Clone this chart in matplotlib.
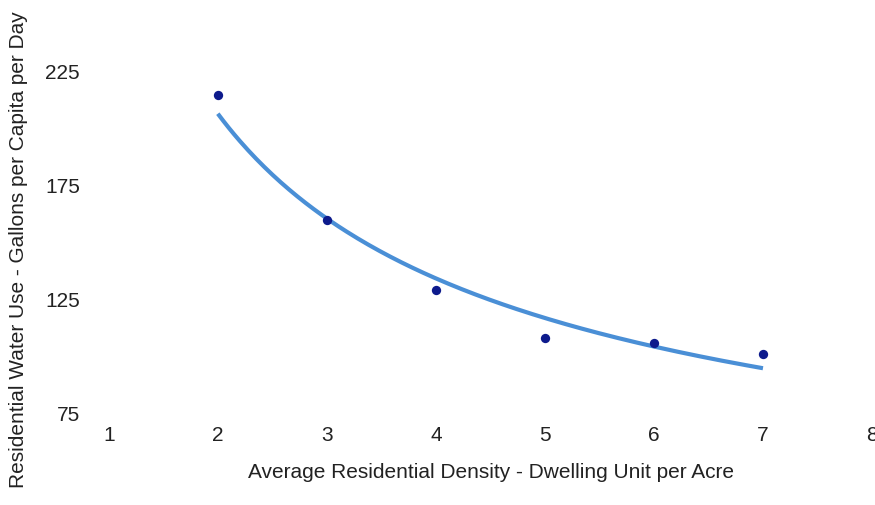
import numpy as np
import matplotlib
matplotlib.use("Agg")
import matplotlib.pyplot as plt

# Data
density = [2, 3, 4, 5, 6, 7]
water_use = [214.5, 159.5, 129.0, 108.0, 105.8, 101.0]
x_ticks = [1, 2, 3, 4, 5, 6, 7, 8]
y_ticks = [75, 125, 175, 225]

plt.rcParams['font.family'] = ['Liberation Sans', 'DejaVu Sans']

fig = plt.figure(figsize=(8.75, 5.06), dpi=100)
fig.patch.set_facecolor('white')
ax = fig.add_axes([87/875, 1 - 420.8/506, 785/875, 405.8/506])
ax.set_facecolor('white')

# Power-law trendline fitted to the points
xd = np.array(density, dtype=float)
yd = np.array(water_use, dtype=float)
b, ln_a = np.polyfit(np.log(xd), np.log(yd), 1)
xs = np.linspace(xd.min(), xd.max(), 200)
ax.plot(xs, np.exp(ln_a) * xs ** b, color='#4a8fd6', lw=3, solid_capstyle='butt', zorder=2)

ax.scatter(density, water_use, s=45, color='#0d1a8c', zorder=3, linewidths=0)

ax.set_xlim(0.8, 8.0)
ax.set_ylim(72, 250)
ax.set_xticks(x_ticks)
ax.set_yticks(y_ticks)
ax.tick_params(axis='both', length=0, labelsize=15, colors='#222222')
ax.tick_params(axis='y', pad=5)
ax.tick_params(axis='x', pad=4)
for s in ax.spines.values():
    s.set_visible(False)

ax.set_xlabel('Average Residential Density - Dwelling Unit per Acre', fontsize=15, color='#222222')
ax.set_ylabel('Residential Water Use - Gallons per Capita per Day', fontsize=15, color='#222222')
ax.xaxis.label.set_va('center')
ax.yaxis.label.set_va('center')
ax.xaxis.set_label_coords((491 - 87) / 785, (420.8 - 473) / 405.8)
ax.yaxis.set_label_coords((19 - 87) / 785, (420.8 - 250) / 405.8)

fig.savefig('out.png', dpi=100, facecolor='white')
